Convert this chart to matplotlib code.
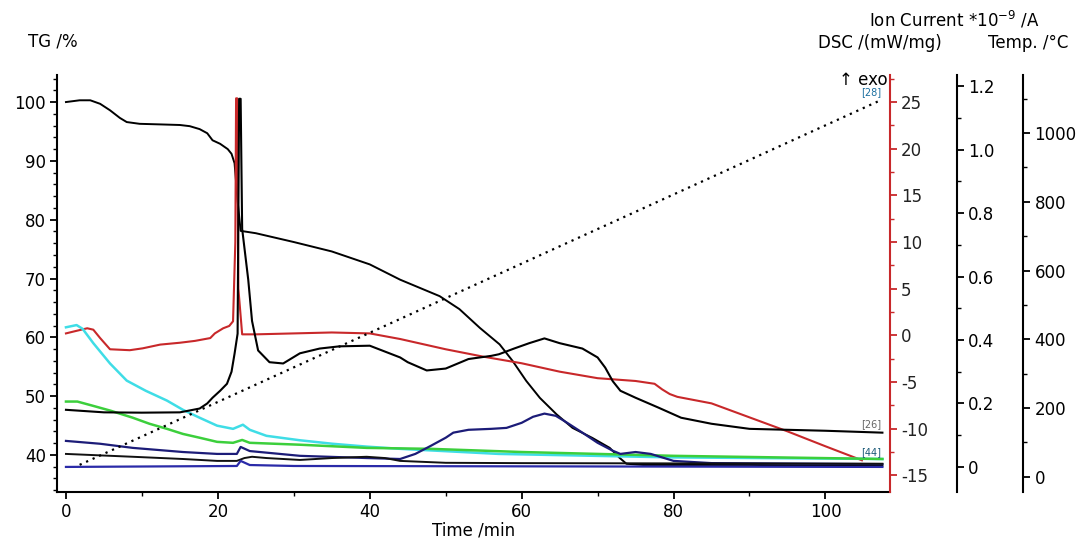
import matplotlib
matplotlib.use("Agg")
import matplotlib.pyplot as plt
from matplotlib.ticker import MultipleLocator

plt.rcParams['font.family'] = ['DejaVu Sans']
plt.rcParams['mathtext.default'] = 'regular'
plt.rcParams['axes.unicode_minus'] = False

# --- datos ---
# TG (%)
tg_t = [0, 1.8, 3.2, 4.5, 5.8, 7.1, 8, 9.7, 12.4, 15, 16.3, 17.6, 18.6, 19.3, 20.3, 21.3,
        21.8, 22.2, 22.6, 23.0, 23.5, 25, 30, 35, 40, 44, 46.6, 49.2, 51.8, 54.5, 57.1,
        58.8, 60.6, 62.4, 64.6, 66.7, 69.3, 71.6, 72.9, 73.8, 76, 80, 90, 100, 107.5]
tg_v = [100, 100.3, 100.3, 99.7, 98.6, 97.3, 96.6, 96.3, 96.2, 96.1, 95.9, 95.4, 94.7, 93.5,
        92.9, 92.0, 91.2, 89.6, 83.2, 78.1, 78.0, 77.7, 76.2, 74.6, 72.4, 69.8, 68.4, 67.0,
        64.8, 61.6, 58.8, 56.0, 52.6, 49.7, 46.9, 44.6, 42.9, 41.2, 39.5, 38.5, 38.3, 38.3,
        38.3, 38.2, 38.2]

# DSC (mW/mg)
dsc_t = [0, 1, 2.8, 3.6, 4.5, 5.8, 8.4, 10.1, 12.4, 15, 17, 19, 19.6, 20.7, 21.5, 22.0,
         22.3, 22.4, 22.55, 22.7, 23.2, 25, 30, 35, 40, 44, 50, 55, 60, 65, 70, 75, 77.5,
         78.5, 79.5, 80.5, 85, 90, 95, 100, 104.8]
dsc_v = [0.2, 0.4, 0.75, 0.6, -0.3, -1.5, -1.6, -1.4, -1.0, -0.8, -0.6, -0.3, 0.2, 0.75,
         1.0, 1.5, 10, 25.4, 25.4, 5, 0.1, 0.1, 0.2, 0.3, 0.2, -0.4, -1.5, -2.3, -3.0, -3.9,
         -4.6, -4.9, -5.2, -5.8, -6.3, -6.6, -7.3, -8.8, -10.3, -11.9, -13.4]

# Temperatura (°C)
temp_t = [1.8, 107.2]
temp_v = [35, 1095]

# Corrientes ionicas (*1e-9 A)
ms26_t = [0, 5, 10, 15, 17.6, 18.6, 19.3, 20.3, 21.2, 21.8, 22.2, 22.6, 22.8, 23.0, 23.2,
          24, 24.5, 25.3, 26.8, 28.6, 30.8, 33.4, 36, 40, 44, 45, 47.5, 50, 53, 56, 57, 59,
          61, 63, 65, 68, 70, 71, 72, 73, 75, 78, 81, 85, 90, 100, 107.5]
ms26_v = [0.18, 0.172, 0.171, 0.172, 0.184, 0.2, 0.218, 0.24, 0.262, 0.3, 0.357, 0.42, 1.16,
          1.16, 0.75, 0.59, 0.46, 0.367, 0.33, 0.326, 0.358, 0.373, 0.38, 0.382, 0.345, 0.33,
          0.304, 0.31, 0.34, 0.35, 0.355, 0.373, 0.39, 0.405, 0.39, 0.373, 0.345, 0.313, 0.27,
          0.24, 0.218, 0.187, 0.155, 0.136, 0.12, 0.114, 0.108]

cyan_t = [0, 1.4, 2.2, 3.6, 5.8, 8, 10.5, 13.3, 15.4, 17.6, 19.9, 22, 23.3, 24.2, 26.4,
          30.8, 35.1, 39.6, 44, 57, 80, 107.5]
cyan_v = [0.44, 0.447, 0.435, 0.39, 0.326, 0.272, 0.24, 0.209, 0.18, 0.155, 0.13, 0.12,
          0.133, 0.117, 0.098, 0.084, 0.073, 0.064, 0.057, 0.041, 0.03, 0.025]

green_t = [0, 1.5, 3.5, 5.9, 8.8, 11, 13.3, 15.4, 17.6, 19.9, 22, 23.2, 24.2, 30.8, 39.6,
           48, 60, 80, 107.5]
green_v = [0.206, 0.206, 0.193, 0.177, 0.155, 0.136, 0.12, 0.104, 0.092, 0.079, 0.076,
           0.085, 0.076, 0.070, 0.060, 0.057, 0.047, 0.035, 0.025]

navy_t = [0, 4.5, 8.8, 15.4, 19.9, 22.5, 23.0, 24.2, 30.8, 39.6, 44, 46, 48, 50, 51, 53,
          56, 58, 60, 61.5, 63, 64.5, 66, 68, 70, 72, 73, 75, 77, 80, 85, 107.5]
navy_v = [0.082, 0.073, 0.06, 0.047, 0.041, 0.041, 0.063, 0.05, 0.035, 0.028, 0.025, 0.041,
          0.066, 0.092, 0.108, 0.117, 0.12, 0.123, 0.139, 0.158, 0.168, 0.161, 0.139, 0.108,
          0.076, 0.051, 0.041, 0.047, 0.041, 0.019, 0.012, 0.009]

black2_t = [0, 8.8, 15.4, 19.9, 22.5, 23.5, 24.5, 26.4, 30.8, 35, 39.6, 42, 44, 50, 60, 107.5]
black2_v = [0.041, 0.032, 0.025, 0.019, 0.019, 0.028, 0.032, 0.028, 0.022, 0.028, 0.032,
            0.028, 0.019, 0.013, 0.012, 0.010]

blue_t = [0, 22.5, 23.0, 24.2, 30, 107.5]
blue_v = [0.0, 0.003, 0.019, 0.006, 0.003, 0.0]

ROJO = '#c8282a'

fig = plt.figure(figsize=(10.84, 5.38), dpi=100)
ax = fig.add_axes([57 / 1084, 46 / 538, 833 / 1084, 417 / 538])
ax_dsc = ax.twinx()
ax_ion = ax.twinx()
ax_temp = ax.twinx()

# curvas
ax_temp.plot(temp_t, temp_v, color='black', linestyle=(0, (1, 2.2)), lw=1.6)
ax_ion.plot(cyan_t, cyan_v, color='#3fdde6', lw=1.8)
ax_ion.plot(green_t, green_v, color='#3ccf3c', lw=1.8)
ax_ion.plot(navy_t, navy_v, color='#1c1c78', lw=1.6)
ax_ion.plot(black2_t, black2_v, color='#111111', lw=1.4)
ax_ion.plot(blue_t, blue_v, color='#2a2aa8', lw=1.6)
ax_ion.plot(ms26_t, ms26_v, color='black', lw=1.5)
ax.plot(tg_t, tg_v, color='black', lw=1.4)
ax_dsc.plot(dsc_t, dsc_v, color=ROJO, lw=1.5)

# etiquetas de curvas
ax_ion.text(107.3, 0.118, '[26]', color='#666666', fontsize=7, ha='right', va='bottom')
ax_ion.text(107.3, 0.030, '[44]', color='#1c5a78', fontsize=7, ha='right', va='bottom')
ax_temp.text(107.3, 1105, '[28]', color='#1b6fa0', fontsize=7, ha='right', va='bottom')

# limites
ax.set_xlim(-1.18, 108.5)
ax.set_ylim(33.7, 104.6)
ax_dsc.set_ylim(-16.8, 27.9)
ax_ion.set_ylim(-0.079, 1.235)
ax_temp.set_ylim(-44, 1169)

# ejes y espinas
for a in (ax, ax_dsc, ax_ion, ax_temp):
    a.spines['top'].set_visible(False)
ax.spines['right'].set_visible(False)
for a in (ax_dsc, ax_ion, ax_temp):
    a.spines['left'].set_visible(False)
    a.spines['bottom'].set_visible(False)
ax_dsc.spines['right'].set_color(ROJO)
ax_dsc.spines['right'].set_linewidth(1.5)
ax_ion.spines['right'].set_position(('outward', 48))
ax_temp.spines['right'].set_position(('outward', 96))
for s in (ax.spines['left'], ax.spines['bottom'], ax_ion.spines['right'], ax_temp.spines['right']):
    s.set_linewidth(1.5)

ax.xaxis.set_major_locator(MultipleLocator(20))
ax.xaxis.set_minor_locator(MultipleLocator(10))
ax.yaxis.set_major_locator(MultipleLocator(10))
ax.yaxis.set_minor_locator(MultipleLocator(2))
ax_dsc.yaxis.set_major_locator(MultipleLocator(5))
ax_dsc.yaxis.set_minor_locator(MultipleLocator(2.5))
ax_ion.yaxis.set_major_locator(MultipleLocator(0.2))
ax_ion.yaxis.set_minor_locator(MultipleLocator(0.1))
ax_ion.yaxis.set_major_formatter(plt.FuncFormatter(lambda v, p: '0' if abs(v) < 1e-9 else f'{v:.1f}'))
ax_temp.yaxis.set_major_locator(MultipleLocator(200))
ax_temp.yaxis.set_minor_locator(MultipleLocator(100))

fs = 12
for a in (ax, ax_dsc, ax_ion, ax_temp):
    a.tick_params(which='major', direction='out', length=5, width=1.3, labelsize=fs, pad=3)
    a.tick_params(which='minor', direction='out', length=3, width=1.0)
ax_dsc.tick_params(axis='y', which='both', colors=ROJO, labelcolor='#222222')

ax.set_xlabel('Time /min', fontsize=fs, labelpad=0)

# titulos de ejes
fig.text(28 / 1084, 1 - 42 / 538, 'TG /%', fontsize=fs, ha='left', va='center')
fig.text(1040 / 1084, 1 - 20 / 538, 'Ion Current *10$^{-9}$ /A', fontsize=fs, ha='right', va='center')
fig.text(818 / 1084, 1 - 43 / 538, 'DSC /(mW/mg)', fontsize=fs, ha='left', va='center')
fig.text(1068 / 1084, 1 - 43 / 538, 'Temp. /°C', fontsize=fs, ha='right', va='center')
fig.text(888 / 1084, 1 - 80 / 538, '↑ exo', fontsize=fs, ha='right', va='center')

fig.savefig('out.png', dpi=100)
